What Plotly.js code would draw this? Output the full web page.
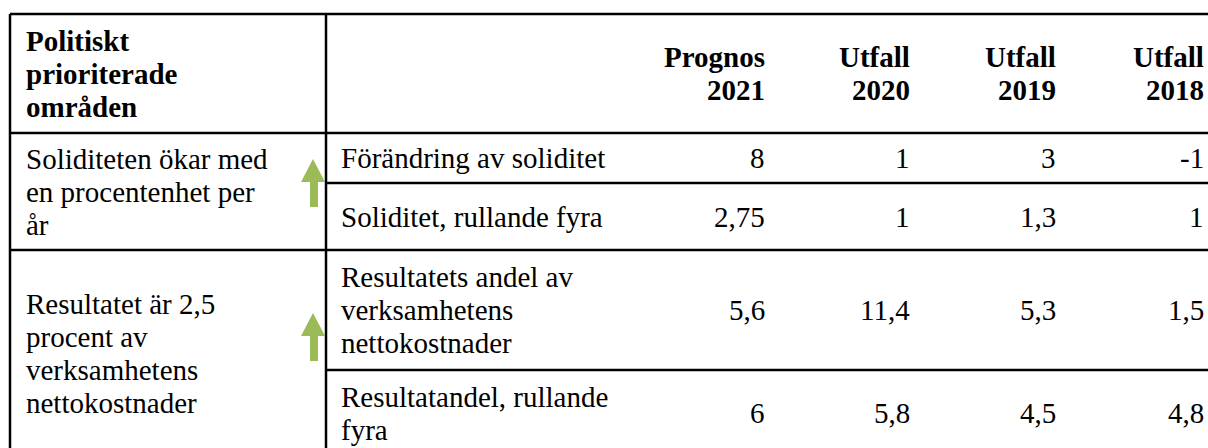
<!DOCTYPE html>
<html>
<head>
<meta charset="utf-8">
<script src="https://cdn.plot.ly/plotly-3.0.1.min.js"></script>
<style>
  html, body { margin: 0; padding: 0; background: #ffffff; }
  #chart { width: 1208px; height: 448px; }
</style>
</head>
<body>
<div id="chart"></div>
<script>
// ---------------- DATA ----------------
const headerArea = ["Politiskt", "prioriterade", "områden"];
const headerCols = [["Prognos", "2021"], ["Utfall", "2020"], ["Utfall", "2019"], ["Utfall", "2018"]];

const areas = [
  ["Soliditeten ökar med", "en procentenhet per", "år"],
  ["Resultatet är 2,5", "procent av", "verksamhetens", "nettokostnader"]
];
const areaTrend = ["up", "up"];

const indicators = [
  ["Förändring av soliditet"],
  ["Soliditet, rullande fyra"],
  ["Resultatets andel av", "verksamhetens", "nettokostnader"],
  ["Resultatandel, rullande", "fyra"]
];
const indicatorArea = [0, 0, 1, 1];

const prognos2021 = ["8", "2,75", "5,6", "6"];
const utfall2020  = ["1", "1", "11,4", "5,8"];
const utfall2019  = ["3", "1,3", "5,3", "4,5"];
const utfall2018  = ["-1", "1", "1,5", "4,8"];

// ---------------- LAYOUT CONSTANTS ----------------
const W = 1208, H = 448;
const FONT = "Liberation Serif";
const FS = 29, LH = 33;
const xLeft = 10, xDiv = 326;
const xAreaText = 25, xIndText = 340;
const colRight = [766, 911, 1057, 1205];
const yTop = 14, yHeadBottom = 133;
const rowBottoms = [183, 250, 370, 456];
const lineW = 2.5;
const arrowColor = "#9BBB59";
const arrowTips = [159, 313];

const valueCols = [prognos2021, utfall2020, utfall2019, utfall2018];

const annotations = [];
const shapes = [];

function addLines(lines, x, yCenter, anchor, bold) {
  const n = lines.length;
  const top = yCenter - n * LH / 2;
  lines.forEach((t, i) => {
    annotations.push({
      xref: "x", yref: "y",
      x: x, y: top + (i + 0.5) * LH,
      xanchor: anchor, yanchor: "middle",
      text: bold ? "<b>" + t + "</b>" : t,
      showarrow: false,
      font: { family: FONT, size: FS, color: "#000000" },
      borderpad: 0
    });
  });
}

// header
const headCenter = (yTop + yHeadBottom) / 2;
addLines(headerArea, xAreaText, headCenter, "left", true);
headerCols.forEach((lbl, j) => addLines(lbl, colRight[j], headCenter, "right", true));

// rows
const rowTops = [yHeadBottom].concat(rowBottoms.slice(0, -1));
indicators.forEach((lines, i) => {
  const c = (rowTops[i] + rowBottoms[i]) / 2;
  addLines(lines, xIndText, c, "left", false);
  valueCols.forEach((col, j) => addLines([col[i]], colRight[j], c, "right", false));
});

// area (merged) cells
const areaBounds = areas.map((_, a) => {
  const idx = indicatorArea.map((v, k) => v === a ? k : -1).filter(k => k >= 0);
  return [rowTops[idx[0]], rowBottoms[idx[idx.length - 1]]];
});
areas.forEach((lines, a) => {
  const c = (areaBounds[a][0] + areaBounds[a][1]) / 2;
  addLines(lines, xAreaText, c, "left", false);
});

// grid lines
const ln = { color: "#000000", width: lineW };
shapes.push({ type: "line", xref: "x", yref: "y", x0: xLeft, x1: W, y0: yTop, y1: yTop, line: ln });
shapes.push({ type: "line", xref: "x", yref: "y", x0: xLeft, x1: W, y0: yHeadBottom, y1: yHeadBottom, line: ln });
shapes.push({ type: "line", xref: "x", yref: "y", x0: xLeft, x1: xLeft, y0: yTop, y1: H + 10, line: ln });
shapes.push({ type: "line", xref: "x", yref: "y", x0: xDiv, x1: xDiv, y0: yTop, y1: H + 10, line: ln });
rowBottoms.forEach((yb, i) => {
  const lastInArea = (i === indicators.length - 1) || indicatorArea[i + 1] !== indicatorArea[i];
  shapes.push({ type: "line", xref: "x", yref: "y", x0: lastInArea ? xLeft : xDiv, x1: W, y0: yb, y1: yb, line: ln });
});

// trend arrows
areaTrend.forEach((t, a) => {
  if (t !== "up") return;
  const tip = arrowTips[a];
  const hx0 = 301, hx1 = 325, sx0 = 310, sx1 = 318, hb = tip + 23, sb = tip + 48;
  const cx = (hx0 + hx1) / 2;
  shapes.push({
    type: "path", xref: "x", yref: "y",
    path: `M ${cx} ${tip} L ${hx1} ${hb} L ${sx1} ${hb} L ${sx1} ${sb} L ${sx0} ${sb} L ${sx0} ${hb} L ${hx0} ${hb} Z`,
    fillcolor: arrowColor, line: { width: 0 }
  });
});

const layout = {
  width: W, height: H,
  margin: { l: 0, r: 0, t: 0, b: 0, pad: 0 },
  paper_bgcolor: "#ffffff", plot_bgcolor: "#ffffff",
  font: { family: FONT, size: FS, color: "#000000" },
  xaxis: { range: [0, W], visible: false, fixedrange: true },
  yaxis: { range: [H, 0], visible: false, fixedrange: true },
  showlegend: false,
  shapes: shapes,
  annotations: annotations
};

Plotly.newPlot("chart", [{ x: [], y: [], type: "scatter", mode: "markers", hoverinfo: "skip" }], layout,
  { staticPlot: true, displayModeBar: false });
</script>
</body>
</html>
